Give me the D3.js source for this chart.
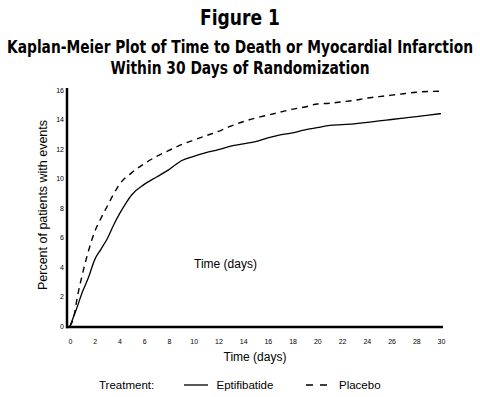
<!DOCTYPE html>
<html>
<head>
<meta charset="utf-8">
<script src="https://cdn.jsdelivr.net/npm/d3@7"></script>
<style>
  html, body { margin: 0; padding: 0; background: #fff; }
  svg { display: block; }
</style>
</head>
<body>
<svg id="chart" width="480" height="397"></svg>
<script>
// ---- Data ----
const eptDays = [0, 0.5, 1, 1.5, 2, 2.5, 3, 3.5, 4, 4.5, 5, 6, 7, 8, 9, 10, 11, 12, 13, 14, 15, 16, 17, 18, 19, 20, 21, 22, 23, 24, 25, 26, 27, 28, 29, 30];
const eptValues = [0, 1.1, 2.3, 3.3, 4.5, 5.2, 5.9, 6.8, 7.6, 8.3, 8.9, 9.6, 10.1, 10.6, 11.2, 11.5, 11.75, 11.95, 12.2, 12.35, 12.5, 12.75, 12.95, 13.1, 13.3, 13.45, 13.6, 13.65, 13.7, 13.8, 13.9, 14.0, 14.1, 14.2, 14.3, 14.4];
const plaDays = [0, 0.3, 0.6, 1, 1.5, 2, 2.5, 3, 3.5, 4, 5, 6, 7, 8, 9, 10, 11, 12, 13, 14, 15, 16, 17, 18, 19, 20, 21, 22, 23, 24, 25, 26, 27, 28, 29, 30];
const plaValues = [0, 0.6, 2.0, 3.5, 5.1, 6.4, 7.3, 8.1, 8.9, 9.6, 10.4, 11.0, 11.5, 11.9, 12.3, 12.6, 12.9, 13.2, 13.55, 13.85, 14.1, 14.3, 14.5, 14.7, 14.85, 15.05, 15.1, 15.2, 15.3, 15.45, 15.55, 15.65, 15.75, 15.85, 15.9, 15.92];
const xTicks = [0, 2, 4, 6, 8, 10, 12, 14, 16, 18, 20, 22, 24, 26, 28, 30];
const yTicks = [0, 2, 4, 6, 8, 10, 12, 14, 16];
const titleLines = ["Figure 1", "Kaplan-Meier Plot of Time to Death or Myocardial Infarction", "Within 30 Days of Randomization"];
const seriesNames = ["Eptifibatide", "Placebo"];

// ---- Layout ----
const svg = d3.select("#chart");
const x = d3.scaleLinear().domain([0, 30]).range([70, 441]);
const y = d3.scaleLinear().domain([0, 16]).range([326, 90]);
const sans = "'Liberation Sans', Arial, Helvetica, sans-serif";
const narrow = "'Liberation Sans Narrow', 'DejaVu Sans Condensed', 'Liberation Sans', sans-serif";

// Titles (drawn at a smaller size then stretched vertically to keep glyphs condensed)
const titleSpecs = [
  {size: 16, sy: 1.3, yb: 25, w: 80},
  {size: 14, sy: 1.25, yb: 53, w: 466},
  {size: 14, sy: 1.25, yb: 74, w: 259}
];
titleLines.forEach((t, i) => {
  const s = titleSpecs[i];
  svg.append("text")
    .attr("transform", `translate(240,${s.yb}) scale(1,${s.sy})`)
    .attr("x", 0).attr("y", 0)
    .attr("text-anchor", "middle")
    .attr("font-family", narrow)
    .attr("font-weight", "bold")
    .attr("font-size", s.size)
    .attr("textLength", s.w)
    .attr("lengthAdjust", "spacingAndGlyphs")
    .attr("fill", "#000")
    .text(t);
});

// Axes
const xAxis = d3.axisBottom(x).tickValues(xTicks).tickSize(0).tickPadding(0).tickFormat(d3.format("d"));
const gx = svg.append("g").attr("transform", "translate(0,344)").call(xAxis);
gx.select(".domain").remove();
gx.selectAll("text").attr("dy", 0).attr("font-family", sans).attr("font-size", 7).attr("fill", "#000");

const yAxis = d3.axisLeft(y).tickValues(yTicks).tickSize(0).tickPadding(0).tickFormat(d3.format("d"));
const gy = svg.append("g").attr("transform", "translate(64,0)").call(yAxis);
gy.select(".domain").remove();
gy.selectAll("text").attr("dy", "0.32em").attr("font-family", sans).attr("font-size", 7).attr("fill", "#000");

// Axis lines
svg.append("line").attr("x1", 67).attr("x2", 67).attr("y1", y(16) - 2).attr("y2", y(0) + 2.2)
  .attr("stroke", "#000").attr("stroke-width", 2.5);
svg.append("line").attr("x1", 66).attr("x2", x(30) + 2).attr("y1", y(0) + 1).attr("y2", y(0) + 1)
  .attr("stroke", "#000").attr("stroke-width", 2.5);

// Lines
const line = d3.line().x(d => x(d[0])).y(d => y(d[1])).curve(d3.curveMonotoneX);
const ept = eptDays.map((d, i) => [d, eptValues[i]]);
const pla = plaDays.map((d, i) => [d, plaValues[i]]);
svg.append("path").datum(ept).attr("d", line)
  .attr("fill", "none").attr("stroke", "#000").attr("stroke-width", 1.3);
svg.append("path").datum(pla).attr("d", line)
  .attr("fill", "none").attr("stroke", "#000").attr("stroke-width", 1.4)
  .attr("stroke-dasharray", "6,5");

// Axis titles
svg.append("text")
  .attr("transform", "translate(47,205) rotate(-90)")
  .attr("text-anchor", "middle")
  .attr("font-family", sans).attr("font-size", 12)
  .attr("textLength", 170).attr("lengthAdjust", "spacingAndGlyphs")
  .text("Percent of patients with events");

svg.append("text")
  .attr("x", 225.5).attr("y", 268)
  .attr("text-anchor", "middle")
  .attr("font-family", sans).attr("font-size", 12)
  .text("Time (days)");

svg.append("text")
  .attr("x", 255).attr("y", 361)
  .attr("text-anchor", "middle")
  .attr("font-family", sans).attr("font-size", 12)
  .text("Time (days)");

// Legend
const ly = 389;
svg.append("text").attr("x", 99).attr("y", ly)
  .attr("font-family", sans).attr("font-size", 11.5).text("Treatment:");
svg.append("line").attr("x1", 184).attr("x2", 208).attr("y1", ly - 4).attr("y2", ly - 4)
  .attr("stroke", "#000").attr("stroke-width", 1.3);
svg.append("text").attr("x", 216.5).attr("y", ly)
  .attr("font-family", sans).attr("font-size", 11.5).text(seriesNames[0]);
svg.append("line").attr("x1", 306).attr("x2", 327).attr("y1", ly - 4).attr("y2", ly - 4)
  .attr("stroke", "#000").attr("stroke-width", 1.4).attr("stroke-dasharray", "7,7");
svg.append("text").attr("x", 339).attr("y", ly)
  .attr("font-family", sans).attr("font-size", 11.5).text(seriesNames[1]);
</script>
</body>
</html>
